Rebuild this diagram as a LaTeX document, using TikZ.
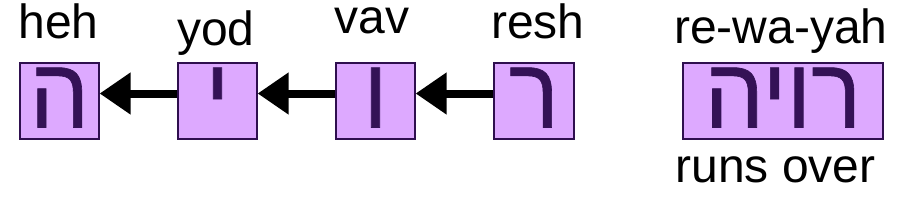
\documentclass[tikz,border=0pt]{standalone}
\usepackage{fontspec}
\setmainfont{Liberation Sans}
\newfontfamily\hebfont[Script=Hebrew, FakeStretch=0.94, FakeBold=0.6]{Liberation Sans}
\TeXXeTstate=1
\usepackage{tikz}
\usetikzlibrary{arrows.meta, positioning, calc}
\definecolor{boxfill}{HTML}{DDA9FF}
\definecolor{boxline}{HTML}{2F0F4F}
\definecolor{glyph}{HTML}{341256}

\begin{document}
\begin{tikzpicture}[x=0.5pt, y=-0.5pt,
  letterbox/.style={draw=boxline, fill=boxfill, line width=0.6pt, inner sep=0pt,
    minimum height=38pt, text height=26.5pt, text depth=0pt, text=glyph,
    font=\fontsize{50}{50}\selectfont\hebfont},
  lbl/.style={anchor=base, inner sep=0pt, text height=0.6em, text depth=0.2em,
    font=\fontsize{24}{28}\selectfont},
  link/.style={line width=4pt, -{Triangle[length=15.5pt, width=20pt]}}]
  \useasboundingbox (0,0) rectangle (909,221);
  % letter boxes
  \node[letterbox, minimum width=39.5pt] (heh)  at (59.5,101)  {\beginR ה\endR};
  \node[letterbox, minimum width=39.5pt] (yod)  at (217.5,101) {\beginR י\endR};
  \node[letterbox, minimum width=39.5pt] (vav)  at (375.5,101) {\beginR ו\endR};
  \node[letterbox, minimum width=40pt]   (resh) at (534,101)   {\beginR ר\endR};
  \node[letterbox, minimum width=100pt]  (word) at (783,101)   {\beginR רויה\endR};
  % names
  \node[lbl] (hehname)  at (58.5,38) {heh};
  \node[lbl] (yodname)  at (216,45)  {yod};
  \node[lbl] (vavname)  at (372,33)  {vav};
  \node[lbl] (reshname) at (538,38)  {resh};
  \node[lbl] (wordname) at (781,43)  {re-wa-yah};
  \node[lbl] (meaning)  at (775.5,182) {runs over};
  % links
  \draw[link] ([yshift=3.75pt]yod.west)  -- ([yshift=3.75pt]heh.east);
  \draw[link] ([yshift=3.75pt]vav.west)  -- ([yshift=3.75pt]yod.east);
  \draw[link] ([yshift=3.75pt]resh.west) -- ([yshift=3.75pt]vav.east);
\end{tikzpicture}
\end{document}
